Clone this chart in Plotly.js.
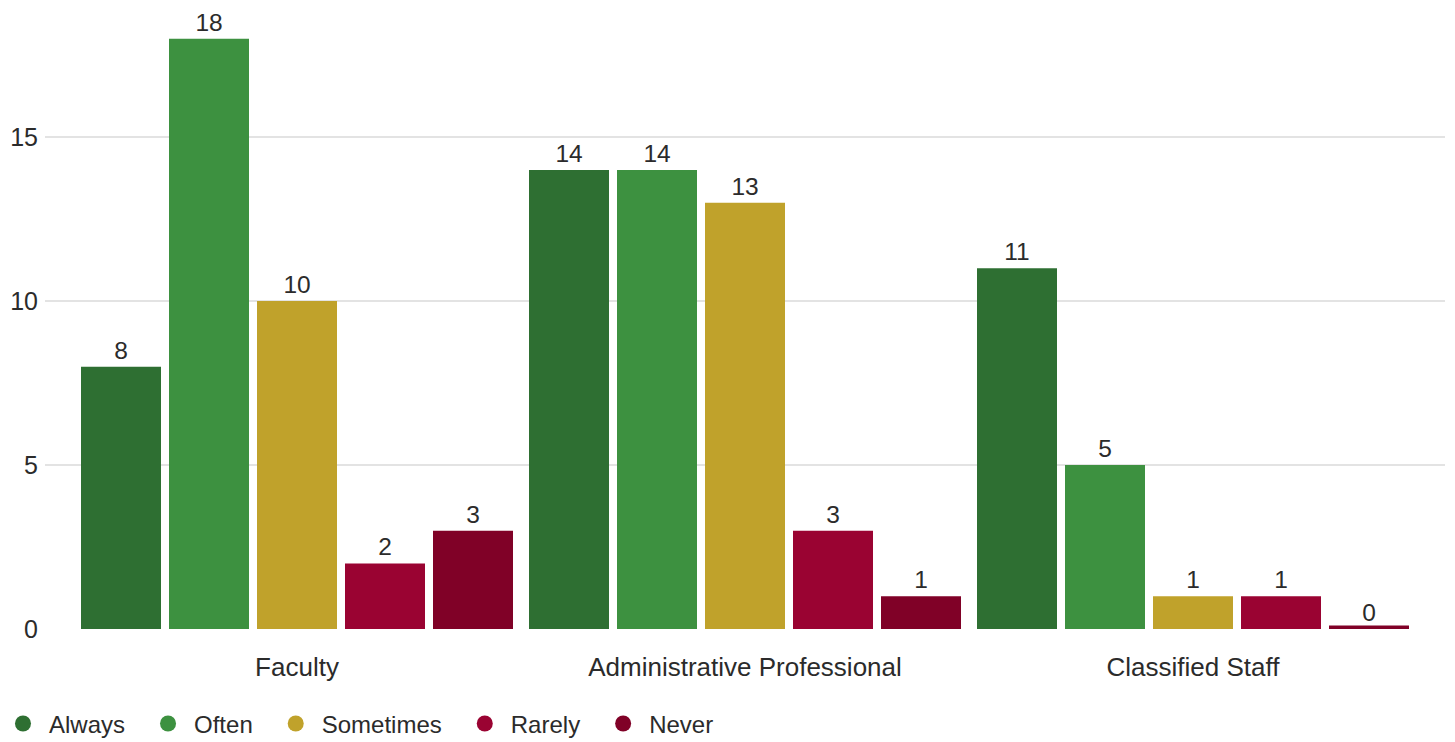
<!DOCTYPE html>
<html>
<head>
<meta charset="utf-8">
<script src="https://cdn.plot.ly/plotly-3.0.1.min.js"></script>
<style>html,body{margin:0;padding:0;background:#fff}#chart{width:1455px;height:742px}</style>
</head>
<body>
<div id="chart"></div>
<script>
const categories = ["Faculty", "Administrative Professional", "Classified Staff"];
const seriesNames = ["Always", "Often", "Sometimes", "Rarely", "Never"];
const always = [8, 14, 11];
const often = [18, 14, 5];
const sometimes = [10, 13, 1];
const rarely = [2, 3, 1];
const never = [3, 1, 0];
const colors = ["#2e6f32", "#3d9140", "#c0a22b", "#9a0332", "#800127"];

const values = [always, often, sometimes, rarely, never];
const FONT = "Liberation Sans, Arial, sans-serif";
const traces = [];
values.forEach((vals, i) => {
  traces.push({
    type: "bar",
    name: seriesNames[i],
    x: categories,
    y: vals,
    text: vals.map(String),
    textposition: "outside",
    cliponaxis: false,
    textfont: {family: FONT, size: 24.5, color: "#2b2b2b"},
    marker: {color: colors[i], line: {color: colors[i], width: vals.map(v => v === 0 ? 7 : 0)}},
    legendgroup: seriesNames[i],
    showlegend: false,
    hoverinfo: "x+y+name"
  });
});
seriesNames.forEach((n, i) => {
  traces.push({
    type: "scatter", mode: "markers", name: n,
    x: [null], y: [null],
    marker: {color: colors[i], size: 20, symbol: "circle"},
    legendgroup: n, showlegend: true
  });
});

const layout = {
  width: 1455, height: 742,
  margin: {l: 45, r: 10, t: 6, b: 113, autoexpand: false},
  paper_bgcolor: "#fff", plot_bgcolor: "#fff",
  font: {family: FONT, size: 24, color: "#2b2b2b"},
  barmode: "group",
  bargap: 0.01786,
  bargroupgap: 0.0909,
  showlegend: true,
  legend: {orientation: "h", xref: "paper", x: -0.04286, xanchor: "left",
           yref: "paper", y: -0.1162, yanchor: "top",
           itemwidth: 42, indentation: 12,
           font: {family: FONT, size: 24, color: "#2b2b2b"}, itemsizing: "trace"},
  xaxis: {type: "category", range: [-0.5625, 2.5625], showgrid: false, zeroline: false,
          showline: false, ticks: "", tickfont: {family: FONT, size: 26, color: "#2b2b2b"},
          ticklabelstandoff: 20, fixedrange: true},
  yaxis: {range: [0, 19], tickvals: [0, 5, 10, 15], showgrid: true, gridcolor: "#e3e3e3",
          gridwidth: 1.5, zeroline: false, showline: false, ticks: "",
          tickfont: {family: FONT, size: 25, color: "#2b2b2b"}, ticklabelstandoff: 6, fixedrange: true}
};
Plotly.newPlot("chart", traces, layout, {displayModeBar: false, staticPlot: true});
</script>
</body>
</html>
